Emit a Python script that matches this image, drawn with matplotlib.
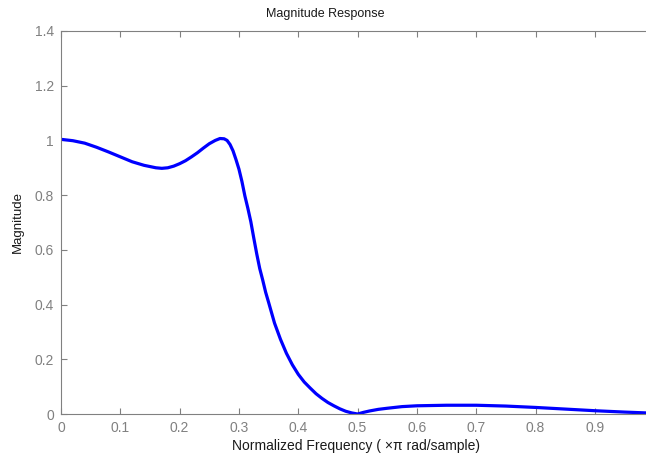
import matplotlib

matplotlib.use("Agg")
import matplotlib.pyplot as plt

# magnitude response (normalized frequency, x pi rad/sample)
freq = [0.0, 0.02, 0.04, 0.06, 0.08, 0.1, 0.12, 0.14, 0.16, 0.17, 0.18, 0.19,
        0.2, 0.21, 0.22, 0.23, 0.24, 0.25, 0.26, 0.268, 0.275, 0.28, 0.285,
        0.29, 0.295, 0.3, 0.305, 0.31, 0.315, 0.32, 0.325, 0.33, 0.335, 0.34,
        0.345, 0.35, 0.36, 0.37, 0.38, 0.39, 0.4, 0.41, 0.42, 0.43, 0.44, 0.45,
        0.46, 0.47, 0.48, 0.49, 0.5, 0.51, 0.52, 0.535, 0.55, 0.575, 0.6, 0.65,
        0.7, 0.75, 0.8, 0.85, 0.9, 0.95, 0.998]
mag = [1.004, 0.999, 0.99, 0.975, 0.958, 0.94, 0.922, 0.909, 0.9, 0.898, 0.9,
       0.906, 0.915, 0.926, 0.94, 0.955, 0.972, 0.988, 1.0, 1.007, 1.006, 1.0,
       0.985, 0.962, 0.93, 0.895, 0.85, 0.797, 0.752, 0.703, 0.643, 0.585,
       0.532, 0.49, 0.445, 0.408, 0.332, 0.273, 0.222, 0.18, 0.145, 0.117,
       0.095, 0.074, 0.057, 0.042, 0.03, 0.019, 0.01, 0.004, 0.0, 0.006, 0.011,
       0.017, 0.021, 0.027, 0.03, 0.032, 0.032, 0.029, 0.024, 0.018, 0.012,
       0.007, 0.003]

x_ticks = [0, 0.1, 0.2, 0.3, 0.4, 0.5, 0.6, 0.7, 0.8, 0.9]
x_ticklabels = ["0", "0.1", "0.2", "0.3", "0.4", "0.5", "0.6", "0.7", "0.8", "0.9"]
y_ticks = [0, 0.2, 0.4, 0.6, 0.8, 1.0, 1.2, 1.4]
y_ticklabels = ["0", "0.2", "0.4", "0.6", "0.8", "1", "1.2", "1.4"]

plt.rcParams["font.family"] = ["Liberation Sans", "DejaVu Sans"]

W, H = 646, 461
fig = plt.figure(figsize=(W / 100, H / 100), dpi=100)
# axes box runs past the right edge of the picture (cropped like the reference)
ax = fig.add_axes([61 / W, (H - 414) / H, (653 - 61) / W, (414 - 31) / H])

ax.plot(freq, mag, color="#0000ff", linewidth=2.3, solid_joinstyle="round")

ax.set_xlim(0, 0.998)
ax.set_ylim(0, 1.4)
ax.set_xticks(x_ticks)
ax.set_xticklabels(x_ticklabels)
ax.set_yticks(y_ticks)
ax.set_yticklabels(y_ticklabels)

grey = "#808080"
for side in ax.spines.values():
    side.set_color(grey)
    side.set_linewidth(0.8)
ax.tick_params(direction="in", length=4, width=0.8, color=grey,
               labelcolor=grey, labelsize=10, top=True, right=True)
ax.tick_params(axis="x", pad=5)
ax.tick_params(axis="y", pad=5)

fig.text(356 / W, 1 - 446 / H, "Normalized Frequency ( \u00d7\u03c0 rad/sample)",
         ha="center", va="center", fontsize=10, color="#1a1a1a")
fig.text(18 / W, 1 - 222 / H, "Magnitude", rotation=90,
         ha="center", va="center", fontsize=9.5, color="#1a1a1a")
fig.text(325 / W, 1 - 14 / H, "Magnitude Response",
         ha="center", va="center", fontsize=9, color="#1a1a1a")

fig.savefig("out.png", dpi=100)
